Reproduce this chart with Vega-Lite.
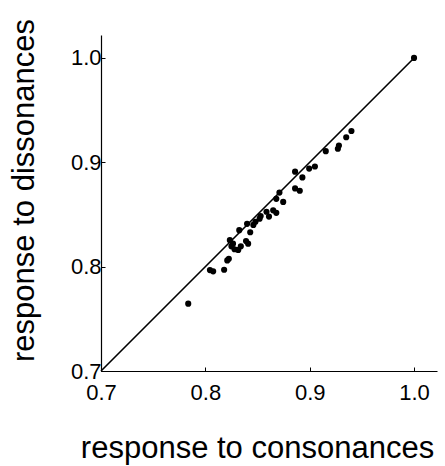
{
  "$schema": "https://vega.github.io/schema/vega-lite/v6.json",
  "autosize": {"type": "none"},
  "padding": {"left": 101, "top": 35, "right": 8, "bottom": 95},
  "width": 336,
  "height": 336,
  "background": "white",
  "config": {
    "view": {"stroke": null},
    "axis": {
      "grid": false,
      "labelFlush": false,
      "labelOverlap": false,
      "domainColor": "black",
      "domainWidth": 1.2,
      "tickColor": "black",
      "tickWidth": 1,
      "tickSize": -4,
      "labelFont": "Liberation Sans",
      "labelFontSize": 22,
      "labelColor": "black",
      "titleFont": "Liberation Sans",
      "titleFontSize": 31,
      "titleFontWeight": "normal",
      "titleColor": "black"
    }
  },
  "datasets": {
    "points": [
      {"cons": 1.0, "diss": 1.0},
      {"cons": 0.7836, "diss": 0.7645},
      {"cons": 0.8044, "diss": 0.7967},
      {"cons": 0.8075, "diss": 0.7955},
      {"cons": 0.818, "diss": 0.797},
      {"cons": 0.821, "diss": 0.806},
      {"cons": 0.8225, "diss": 0.8075},
      {"cons": 0.8235, "diss": 0.8254},
      {"cons": 0.825, "diss": 0.8195},
      {"cons": 0.8265, "diss": 0.822},
      {"cons": 0.828, "diss": 0.8167},
      {"cons": 0.8315, "diss": 0.816},
      {"cons": 0.8325, "diss": 0.835},
      {"cons": 0.834, "diss": 0.8195},
      {"cons": 0.839, "diss": 0.8245},
      {"cons": 0.841, "diss": 0.822},
      {"cons": 0.840, "diss": 0.841},
      {"cons": 0.843, "diss": 0.833},
      {"cons": 0.846, "diss": 0.840},
      {"cons": 0.848, "diss": 0.843},
      {"cons": 0.852, "diss": 0.846},
      {"cons": 0.853, "diss": 0.8485},
      {"cons": 0.8586, "diss": 0.8526},
      {"cons": 0.861, "diss": 0.848},
      {"cons": 0.865, "diss": 0.854},
      {"cons": 0.868, "diss": 0.8516},
      {"cons": 0.868, "diss": 0.865},
      {"cons": 0.871, "diss": 0.871},
      {"cons": 0.8746, "diss": 0.862},
      {"cons": 0.886, "diss": 0.891},
      {"cons": 0.886, "diss": 0.875},
      {"cons": 0.8905, "diss": 0.8727},
      {"cons": 0.893, "diss": 0.8855},
      {"cons": 0.8995, "diss": 0.894},
      {"cons": 0.905, "diss": 0.896},
      {"cons": 0.9154, "diss": 0.9107},
      {"cons": 0.927, "diss": 0.913},
      {"cons": 0.928, "diss": 0.916},
      {"cons": 0.935, "diss": 0.924},
      {"cons": 0.940, "diss": 0.930}
    ],
    "diagonal": [
      {"cons": 0.7, "diss": 0.7},
      {"cons": 1.0, "diss": 1.0}
    ]
  },
  "layer": [
    {
      "data": {"name": "diagonal"},
      "mark": {"type": "line", "color": "black", "strokeWidth": 1.6, "clip": false},
      "encoding": {
        "x": {"field": "cons", "type": "quantitative"},
        "y": {"field": "diss", "type": "quantitative"}
      }
    },
    {
      "data": {"name": "points"},
      "mark": {"type": "circle", "color": "black", "opacity": 1, "size": 38},
      "encoding": {
        "x": {
          "field": "cons", "type": "quantitative",
          "scale": {"domain": [0.7, 1.022], "nice": false, "zero": false},
          "axis": {
            "values": [0.7, 0.8, 0.9, 1.0], "format": ".1f",
            "title": "response to consonances",
            "labelPadding": 15,
            "titleAlign": "center", "titleBaseline": "alphabetic",
            "titleX": 156, "titleY": 86
          }
        },
        "y": {
          "field": "diss", "type": "quantitative",
          "scale": {"domain": [0.7, 1.022], "nice": false, "zero": false},
          "axis": {
            "values": [0.7, 0.8, 0.9, 1.0], "format": ".1f",
            "title": "response to dissonances",
            "labelPadding": 4,
            "titleAlign": "center", "titleBaseline": "alphabetic", "titleAngle": -90,
            "titleX": -68, "titleY": 155
          }
        }
      }
    }
  ]
}
